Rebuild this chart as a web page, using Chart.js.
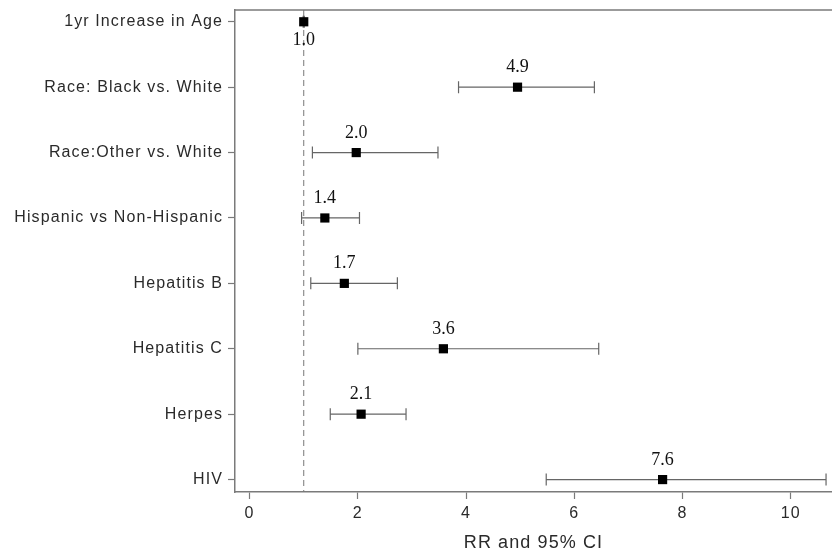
<!DOCTYPE html>
<html>
<head>
<meta charset="utf-8">
<script src="https://cdn.jsdelivr.net/npm/chart.js@4/dist/chart.umd.min.js"></script>
<style>
html,body{margin:0;padding:0;background:#fff;}
#wrap{width:832px;height:554px;position:relative;}
</style>
</head>
<body>
<div id="wrap"><canvas id="c"></canvas></div>
<script>
const categories = ["1yr Increase in Age","Race: Black vs. White","Race:Other vs. White","Hispanic vs Non-Hispanic","Hepatitis B","Hepatitis C","Herpes","HIV"];
const rr      = [1.0, 4.95, 1.97, 1.39, 1.75, 3.58, 2.06, 7.63];
const ciLow   = [0.99, 3.86, 1.16, 0.96, 1.13, 2.00, 1.49, 5.48];
const ciHigh  = [1.01, 6.37, 3.48, 2.03, 2.73, 6.45, 2.89, 10.65];
const rrLabels = ["1.0","4.9","2.0","1.4","1.7","3.6","2.1","7.6"];
const xTicks = [0,2,4,6,8,10];
const refLine = 1;

const points = rr.map((v,i)=>({x:v,y:i}));

const forestPlugin = {
  id:'forest',
  beforeDraw(chart){ chart.ctx.letterSpacing = '1.1px'; },
  beforeDatasetsDraw(chart){
    const {ctx, chartArea:a, scales:{x,y}} = chart;
    ctx.save();
    // top border
    ctx.strokeStyle='#7a7a7a'; ctx.lineWidth=1.5;
    ctx.beginPath(); ctx.moveTo(a.left, a.top); ctx.lineTo(a.right, a.top); ctx.stroke();
    // reference dashed line
    const rx = x.getPixelForValue(refLine);
    ctx.strokeStyle='#777'; ctx.lineWidth=1; ctx.setLineDash([6,4]);
    ctx.beginPath(); ctx.moveTo(rx, a.top); ctx.lineTo(rx, a.bottom); ctx.stroke();
    ctx.setLineDash([]);
    // error bars
    ctx.strokeStyle='#666'; ctx.lineWidth=1.2;
    ciLow.forEach((lo,i)=>{
      const py = y.getPixelForValue(i);
      const x1 = x.getPixelForValue(lo), x2 = x.getPixelForValue(ciHigh[i]);
      ctx.beginPath();
      ctx.moveTo(x1,py); ctx.lineTo(x2,py);
      ctx.moveTo(x1,py-6); ctx.lineTo(x1,py+6);
      ctx.moveTo(x2,py-6); ctx.lineTo(x2,py+6);
      ctx.stroke();
    });
    ctx.restore();
  },
  afterDatasetsDraw(chart){
    const {ctx, scales:{x,y}} = chart;
    ctx.save();
    ctx.letterSpacing = '0px';
    ctx.font = '18px "Liberation Serif", "Times New Roman", serif';
    ctx.fillStyle = '#111';
    ctx.textAlign='center';
    rr.forEach((v,i)=>{
      const px = x.getPixelForValue(v), py = y.getPixelForValue(i);
      if (i===0){ ctx.textBaseline='top'; ctx.fillText(rrLabels[i], px, py+9); }
      else { ctx.textBaseline='alphabetic'; ctx.fillText(rrLabels[i], px, py-15); }
    });
    ctx.restore();
  }
};

const sans = '"Liberation Sans", Arial, sans-serif';

new Chart(document.getElementById('c'), {
  type:'scatter',
  data:{datasets:[{data:points, pointStyle:'rect', pointRadius:6.5, pointHoverRadius:6.5,
    backgroundColor:'#000', borderColor:'#000', borderWidth:0}]},
  options:{
    responsive:true, maintainAspectRatio:false, animation:false,
    layout:{autoPadding:false, padding:{top:10,left:0,right:0,bottom:0}},
    plugins:{legend:{display:false}, tooltip:{enabled:false}},
    scales:{
      x:{type:'linear', min:-0.27, max:10.76,
        afterBuildTicks:ax=>{ax.ticks = xTicks.map(v=>({value:v}));},
        afterFit:ax=>{ax.height=62; ax.paddingLeft=0; ax.paddingRight=0;},
        border:{display:true, color:'#7a7a7a', width:1.5},
        grid:{display:true, drawOnChartArea:false, drawTicks:true, tickLength:7, tickColor:'#7a7a7a', tickWidth:1.2},
        ticks:{font:{family:sans, size:16}, color:'#2a2a2a', padding:5, maxRotation:0},
        title:{display:true, text:'RR and 95% CI', font:{family:sans, size:18}, color:'#2a2a2a', padding:{top:1,bottom:0}}
      },
      y:{type:'linear', reverse:true, min:-0.18, max:7.19,
        afterBuildTicks:ax=>{ax.ticks = categories.map((c,i)=>({value:i}));},
        afterFit:ax=>{ax.width=235; ax.paddingTop=0; ax.paddingBottom=0;},
        border:{display:true, color:'#7a7a7a', width:1.5},
        grid:{display:true, drawOnChartArea:false, drawTicks:true, tickLength:7, tickColor:'#7a7a7a', tickWidth:1.2},
        ticks:{callback:v=>categories[v], font:{family:sans, size:16}, color:'#2a2a2a', padding:5}
      }
    }
  },
  plugins:[forestPlugin]
});
</script>
</body>
</html>
